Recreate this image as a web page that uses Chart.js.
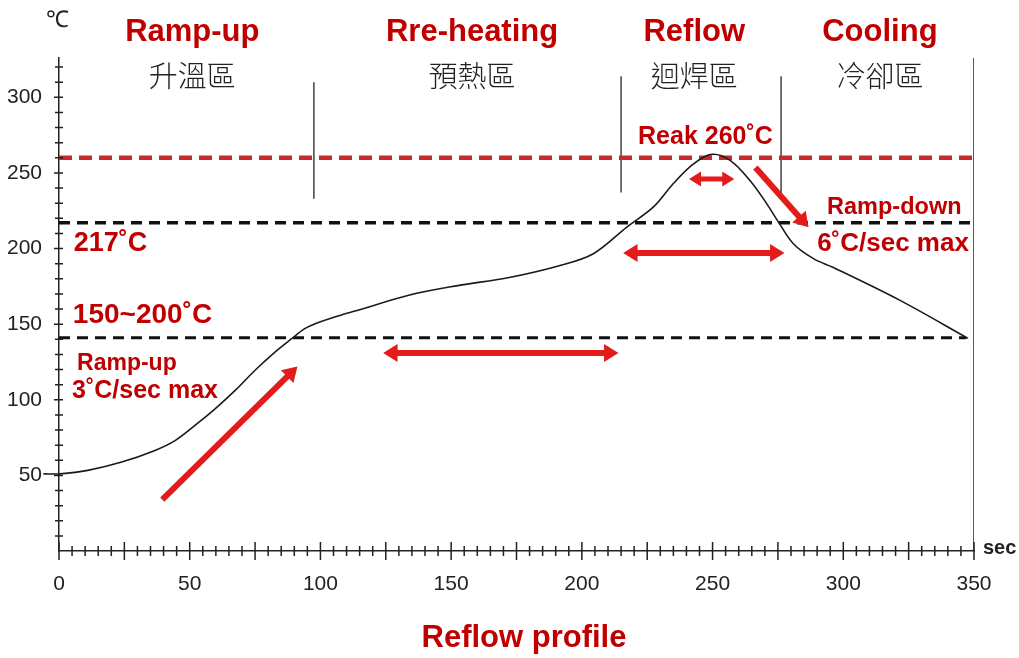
<!DOCTYPE html>
<html>
<head>
<meta charset="utf-8">
<script src="https://cdn.jsdelivr.net/npm/chart.js@4.4.0/dist/chart.umd.min.js"></script>
<style>
    body { margin: 0; background: #ffffff; }
    canvas { display: block; }
</style>
</head>
<body>
<canvas id="perfil" width="1019" height="658"></canvas>
<script>
// curva de temperatura (leitura da imagem)
const tempoSeg = [-6, 0.4, 11, 24, 36.7, 44.4, 52, 59.7, 67.3, 75, 82.6, 89, 94, 98, 107.5, 114, 133.4, 152.5, 171.7, 191, 204.4, 217.2, 227.4, 235, 242.7, 249.7, 256.7, 264.3, 270.7, 275.2, 280.9, 288.6, 296, 321.7, 347.7];
const temperatura = [51, 51, 53.3, 58.8, 66.5, 73, 83, 94, 106, 119.5, 131.5, 140.4, 147, 150.3, 155.8, 159, 169, 175.5, 180.7, 188.5, 196.6, 214.2, 227.5, 243, 256, 262.3, 258.3, 245, 229.7, 217.5, 203.2, 193.3, 187.6, 165.7, 140.6];

const ticksX = [0, 50, 100, 150, 200, 250, 300, 350];
const ticksY = [50, 100, 150, 200, 250, 300];

const nivelPico = 260;
const nivelLiquido = 217;
const nivelPreAquec = 141;

const divisoesZona = [97.5, 215, 276.2];
const topoDivisao = [310, 314, 314];
const baseDivisao = [233, 237, 235];

const zonasEn = ["Ramp-up", "Rre-heating", "Reflow", "Cooling"];
const zonasZh = ["升溫區", "預熱區", "迴焊區", "冷卻區"];

const vermelhoTexto = "#c00000";
const vermelhoSeta = "#e31b1b";

// posicoes das anotacoes em unidades do grafico
const centroZonas = [51, 158, 243, 314];
const anotacoes = [
    { texto: "217˚C", x: 5.6, y: 203.5, tam: 27 },
    { texto: "150~200˚C", x: 5.3, y: 155.8, tam: 28 },
    { texto: "Ramp-up", x: 6.9, y: 124, tam: 23 },
    { texto: "3˚C/sec max", x: 5, y: 105.6, tam: 25 },
    { texto: "Reak 260˚C", x: 221.5, y: 273.5, tam: 25 },
    { texto: "Ramp-down", x: 293.8, y: 227, tam: 23.5 },
    { texto: "6˚C/sec max", x: 290, y: 203.4, tam: 26 }
];
const setas = [
    { de: [39.5, 34], para: [91.2, 122], dupla: false, larg: 6 },
    { de: [124, 131], para: [214, 131], dupla: true, larg: 6 },
    { de: [215.8, 197], para: [277.5, 197], dupla: true, larg: 6 },
    { de: [241, 246], para: [258.3, 246], dupla: true, larg: 5 },
    { de: [266.4, 253.6], para: [286.7, 214], dupla: false, larg: 6 }
];

function linhaH(nivel, fim) {
    return [{ x: 0, y: nivel }, { x: fim, y: nivel }];
}

const datasets = [
    {
        data: tempoSeg.map((t, i) => ({ x: t, y: temperatura[i] })),
        borderColor: "#1a1a1a",
        borderWidth: 1.6,
        pointRadius: 0,
        tension: 0.35,
        clip: false
    },
    { data: linhaH(nivelPico, 350), borderColor: "#c62a2e", borderWidth: 4.5, borderDash: [13, 7], pointRadius: 0 },
    { data: linhaH(nivelLiquido, 350), borderColor: "#111111", borderWidth: 3.5, borderDash: [11, 7], pointRadius: 0 },
    { data: linhaH(nivelPreAquec, 347), borderColor: "#111111", borderWidth: 3, borderDash: [11, 7], pointRadius: 0 },
    { data: [{ x: 350, y: 0 }, { x: 350, y: 326 }], borderColor: "#222222", borderWidth: 1.5, pointRadius: 0 }
];
divisoesZona.forEach((d, i) => {
    datasets.push({
        data: [{ x: d, y: baseDivisao[i] }, { x: d, y: topoDivisao[i] }],
        borderColor: "#222222",
        borderWidth: 1.3,
        pointRadius: 0
    });
});

function desenharSeta(ctx, x1, y1, x2, y2, larg, dupla) {
    const ang = Math.atan2(y2 - y1, x2 - x1);
    const cab = larg * 2.4;
    const meia = larg * 1.5;
    const ini = dupla ? cab * 0.8 : 0;
    ctx.save();
    ctx.strokeStyle = vermelhoSeta;
    ctx.fillStyle = vermelhoSeta;
    ctx.lineWidth = larg;
    ctx.beginPath();
    ctx.moveTo(x1 + Math.cos(ang) * ini, y1 + Math.sin(ang) * ini);
    ctx.lineTo(x2 - Math.cos(ang) * cab * 0.8, y2 - Math.sin(ang) * cab * 0.8);
    ctx.stroke();
    const ponta = (px, py, a) => {
        ctx.beginPath();
        ctx.moveTo(px, py);
        ctx.lineTo(px - Math.cos(a) * cab - Math.sin(a) * meia, py - Math.sin(a) * cab + Math.cos(a) * meia);
        ctx.lineTo(px - Math.cos(a) * cab + Math.sin(a) * meia, py - Math.sin(a) * cab - Math.cos(a) * meia);
        ctx.closePath();
        ctx.fill();
    };
    ponta(x2, y2, ang);
    if (dupla) ponta(x1, y1, ang + Math.PI);
    ctx.restore();
}

const pluginEixos = {
    id: "marcasEixos",
    afterDraw(chart) {
        const ctx = chart.ctx;
        const sx = chart.scales.x;
        const sy = chart.scales.y;
        const x0 = sx.getPixelForValue(0);
        const y0 = sy.getPixelForValue(0);
        ctx.save();
        ctx.strokeStyle = "#222222";
        ctx.lineWidth = 1.5;
        ctx.beginPath();
        for (let v = 0; v <= 350; v += 5) {
            const px = sx.getPixelForValue(v);
            const longo = v % 25 === 0;
            ctx.moveTo(px, y0 - (longo ? 9 : 5));
            ctx.lineTo(px, y0 + (longo ? 9 : 5));
        }
        for (let v = 10; v <= 320; v += 10) {
            const py = sy.getPixelForValue(v);
            ctx.moveTo(x0 - (v % 50 === 0 ? 5 : 4), py);
            ctx.lineTo(x0 + 4, py);
        }
        ctx.stroke();

        // unidades
        ctx.fillStyle = "#222222";
        ctx.textAlign = "center";
        ctx.textBaseline = "middle";
        ctx.font = '23px "Liberation Sans", sans-serif';
        ctx.fillText("℃", 57, 21);
        ctx.textAlign = "left";
        ctx.font = 'bold 20px "Liberation Sans", sans-serif';
        ctx.fillText("sec", 983, 548);

        // zonas
        zonasEn.forEach((z, i) => {
            const px = sx.getPixelForValue(centroZonas[i]);
            ctx.textAlign = "center";
            ctx.fillStyle = vermelhoTexto;
            ctx.font = 'bold 31px "Liberation Sans", Arial, sans-serif';
            ctx.fillText(z, px, 32);
            ctx.fillStyle = "#222222";
            ctx.font = '300 29px "Noto Sans CJK TC", "Noto Sans CJK SC", sans-serif';
            ctx.fillText(zonasZh[i], px, 76);
        });

        // anotacoes
        ctx.textAlign = "left";
        ctx.fillStyle = vermelhoTexto;
        anotacoes.forEach(a => {
            ctx.font = `bold ${a.tam}px "Liberation Sans", Arial, sans-serif`;
            ctx.fillText(a.texto, sx.getPixelForValue(a.x), sy.getPixelForValue(a.y));
        });

        setas.forEach(s => {
            desenharSeta(ctx,
                sx.getPixelForValue(s.de[0]), sy.getPixelForValue(s.de[1]),
                sx.getPixelForValue(s.para[0]), sy.getPixelForValue(s.para[1]),
                s.larg, s.dupla);
        });

        ctx.textAlign = "center";
        ctx.font = 'bold 31px "Liberation Sans", Arial, sans-serif';
        ctx.fillText("Reflow profile", 524, 638);
        ctx.restore();
    }
};

new Chart(document.getElementById("perfil"), {
    type: "line",
    data: { datasets: datasets },
    options: {
        responsive: false,
        animation: false,
        layout: { padding: { top: 58, right: 45, bottom: 0, left: 0 } },
        plugins: {
            legend: { display: false },
            tooltip: { enabled: false }
        },
        scales: {
            x: {
                type: "linear",
                min: 0,
                max: 350,
                afterBuildTicks: (scale) => { scale.ticks = ticksX.map(v => ({ value: v })); },
                afterFit: (scale) => { scale.height = 107; },
                grid: { display: false, drawTicks: false },
                border: { display: true, color: "#222222", width: 1.5 },
                ticks: {
                    padding: 21,
                    maxRotation: 0,
                    autoSkip: false,
                    color: "#222222",
                    font: { family: '"Liberation Sans", sans-serif', size: 21 }
                }
            },
            y: {
                type: "linear",
                min: 0,
                max: 326,
                afterBuildTicks: (scale) => { scale.ticks = ticksY.map(v => ({ value: v })); },
                afterFit: (scale) => { scale.width = 59; },
                grid: { display: false, drawTicks: false },
                border: { display: true, color: "#222222", width: 1.5 },
                ticks: {
                    padding: 17,
                    color: "#222222",
                    font: { family: '"Liberation Sans", sans-serif', size: 21 }
                }
            }
        }
    },
    plugins: [pluginEixos]
});
</script>
</body>
</html>
